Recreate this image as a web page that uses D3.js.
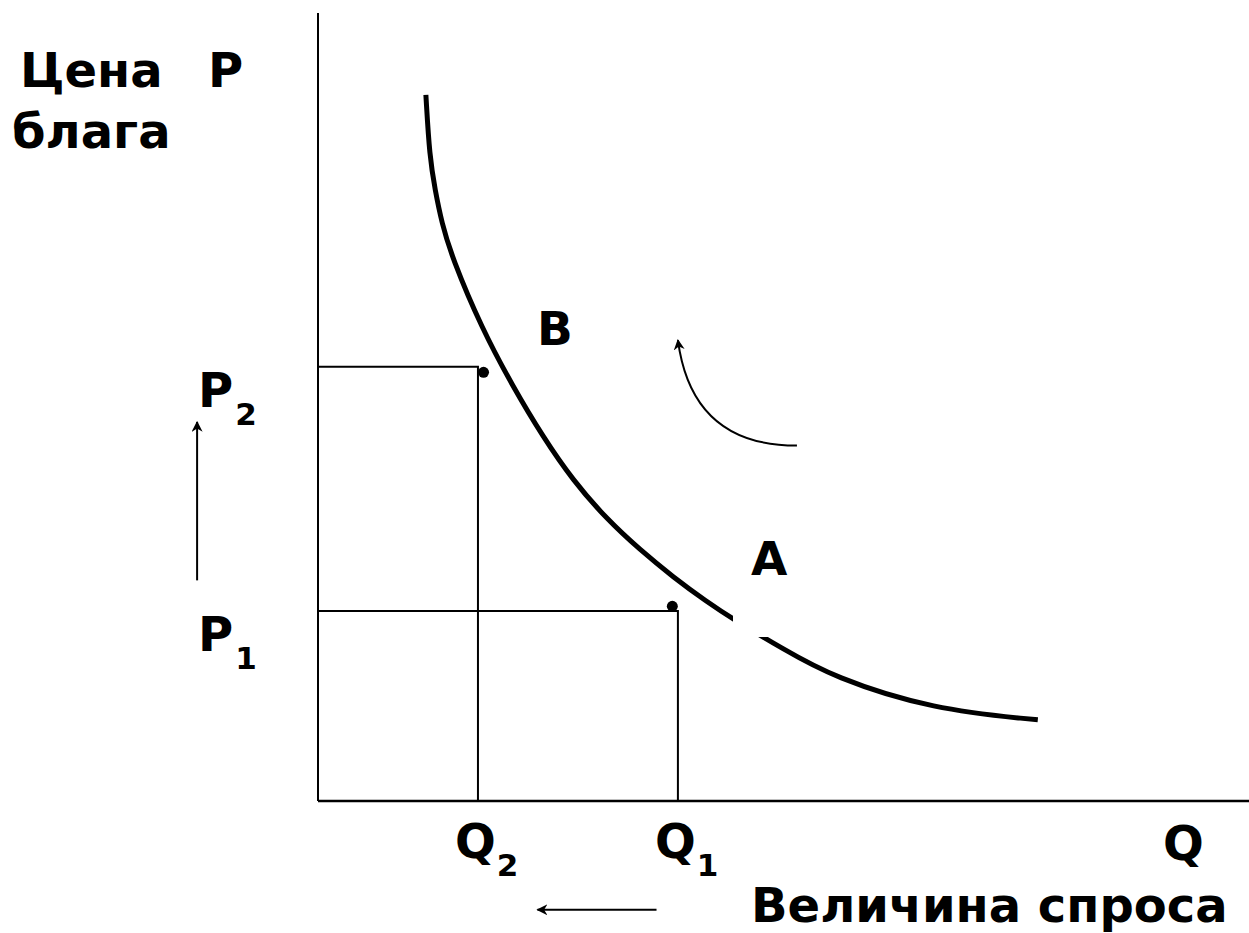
<!DOCTYPE html>
<html>
<head>
<meta charset="utf-8">
<script src="https://cdn.jsdelivr.net/npm/d3@7"></script>
<style>
  body { margin: 0; background: #fff; }
  svg { display: block; }
  text { font-family: "DejaVu Sans", Verdana, sans-serif; font-weight: bold; fill: #000; }
</style>
</head>
<body>
<svg id="chart"></svg>
<script>
// demand curve, Q and P in chart units (0..100)
var demandQ = [11.6, 12.0, 12.6, 13.3, 14.4, 17.6, 21.0, 24.2, 27.4, 31.1, 34.6, 38.2,
               41.8, 44.6, 50.0, 55.4, 66.1, 77.4];
var demandP = [89.6, 81.7, 77.5, 73.4, 69.0, 60.0, 52.5, 46.2, 40.7, 35.7, 31.9, 28.4,
               25.3, 23.1, 19.3, 15.7, 11.6, 10.3];

// points A and B, with the levels they drop to the axes
var pointNames = ['B', 'A'];
var pointQ = [17.8, 38.1];
var pointP = [54.4, 24.7];
var levelQ = [17.2, 38.7];
var levelP = [55.1, 24.1];

// arrows: [q1, p1, q2, p2], head at the second end
var priceArrow = [-13.0, 28.0, -13.0, 48.1];
var qtyArrow = [36.4, -13.8, 23.6, -13.8];
var moveArrow = [51.5, 45.1, 38.7, 58.5];
var moveBend = [40.2, 45.1];

var width = 1249, height = 933;

var svg = d3.select('#chart')
    .attr('width', width)
    .attr('height', height);

var x = d3.scaleLinear().domain([0, 100]).range([318, 1248]);
var y = d3.scaleLinear().domain([0, 100]).range([801, 13]);

var defs = svg.append('defs');
defs.append('marker')
    .attr('id', 'head')
    .attr('viewBox', '0 0 10 10')
    .attr('refX', 9).attr('refY', 5)
    .attr('markerWidth', 5.5).attr('markerHeight', 5.5)
    .attr('markerUnits', 'strokeWidth')
    .attr('orient', 'auto')
    .append('path')
    .attr('d', 'M0,0 L10,5 L0,10 L3,5 Z')
    .attr('fill', '#000');

// axes
svg.append('line')
    .attr('x1', x(0)).attr('y1', y(100))
    .attr('x2', x(0)).attr('y2', y(0))
    .attr('stroke', '#000').attr('stroke-width', 2);
svg.append('line')
    .attr('x1', x(0)).attr('y1', y(0))
    .attr('x2', width).attr('y2', y(0))
    .attr('stroke', '#000').attr('stroke-width', 2.5);

// drop lines from points to the axes
var lv = svg.append('g').attr('stroke', '#000').attr('stroke-width', 2).attr('fill', 'none');
levelQ.forEach(function(q, i) {
    lv.append('path')
        .attr('d', 'M' + x(0) + ',' + y(levelP[i]) +
                   'H' + x(q) + 'V' + y(0));
});

// demand curve (smoothed through the read points)
var demand = demandQ.map(function(q, i) { return [q, demandP[i]]; });
var line = d3.line()
    .x(function(d) { return x(d[0]); })
    .y(function(d) { return y(d[1]); })
    .curve(d3.curveBasis);

svg.append('path')
    .datum(demand)
    .attr('d', line)
    .attr('fill', 'none')
    .attr('stroke', '#000')
    .attr('stroke-width', 5);

// dots
svg.selectAll('circle.pt')
    .data(pointQ)
    .enter().append('circle')
    .attr('class', 'pt')
    .attr('cx', function(d) { return x(d); })
    .attr('cy', function(d, i) { return y(pointP[i]); })
    .attr('r', 5.5)
    .attr('fill', '#000');

// label A sits on a white box that cuts the curve
svg.append('rect')
    .attr('x', 733).attr('y', 520)
    .attr('width', 80).attr('height', 117)
    .attr('fill', '#fff');

svg.append('text').attr('x', 537).attr('y', 345).style('font-size', '47px').text(pointNames[0]);
svg.append('text').attr('x', 751).attr('y', 575).style('font-size', '47px').text(pointNames[1]);

// arrows
function arrow(a, w) {
    svg.append('line')
        .attr('x1', x(a[0])).attr('y1', y(a[1]))
        .attr('x2', x(a[2])).attr('y2', y(a[3]))
        .attr('stroke', '#000').attr('stroke-width', w)
        .attr('marker-end', 'url(#head)');
}
arrow(priceArrow, 2);
arrow(qtyArrow, 2);

svg.append('path')
    .attr('d', 'M' + x(moveArrow[0]) + ',' + y(moveArrow[1]) +
               'Q' + x(moveBend[0]) + ',' + y(moveBend[1]) + ' ' +
               x(moveArrow[2]) + ',' + y(moveArrow[3]))
    .attr('fill', 'none')
    .attr('stroke', '#000').attr('stroke-width', 2)
    .attr('marker-end', 'url(#head)');

// axis titles
svg.append('text').attr('x', 20).attr('y', 87).style('font-size', '48px').text('Цена');
svg.append('text').attr('x', 208).attr('y', 87).style('font-size', '48px').text('Р');
svg.append('text').attr('x', 12).attr('y', 148).style('font-size', '48px').text('блага');
svg.append('text').attr('x', 1163).attr('y', 860).style('font-size', '48px').text('Q');
svg.append('text').attr('x', 751).attr('y', 922).style('font-size', '48px').text('Величина спроса');

// P1, P2 and Q1, Q2 labels
var pLab = svg.selectAll('text.plab')
    .data(levelP)
    .enter().append('text')
    .attr('class', 'plab')
    .attr('x', 198)
    .attr('y', function(d) { return y(d) + 40; })
    .style('font-size', '48px');
pLab.append('tspan').text('P');
pLab.append('tspan').attr('dx', 2).attr('dy', 18).style('font-size', '31px')
    .text(function(d, i) { return i === 0 ? '2' : '1'; });

var qLab = svg.selectAll('text.qlab')
    .data(levelQ)
    .enter().append('text')
    .attr('class', 'qlab')
    .attr('x', function(d) { return x(d) - 23; })
    .attr('y', 858)
    .style('font-size', '48px');
qLab.append('tspan').text('Q');
qLab.append('tspan').attr('dx', 1).attr('dy', 18).style('font-size', '31px')
    .text(function(d, i) { return i === 0 ? '2' : '1'; });
</script>
</body>
</html>
